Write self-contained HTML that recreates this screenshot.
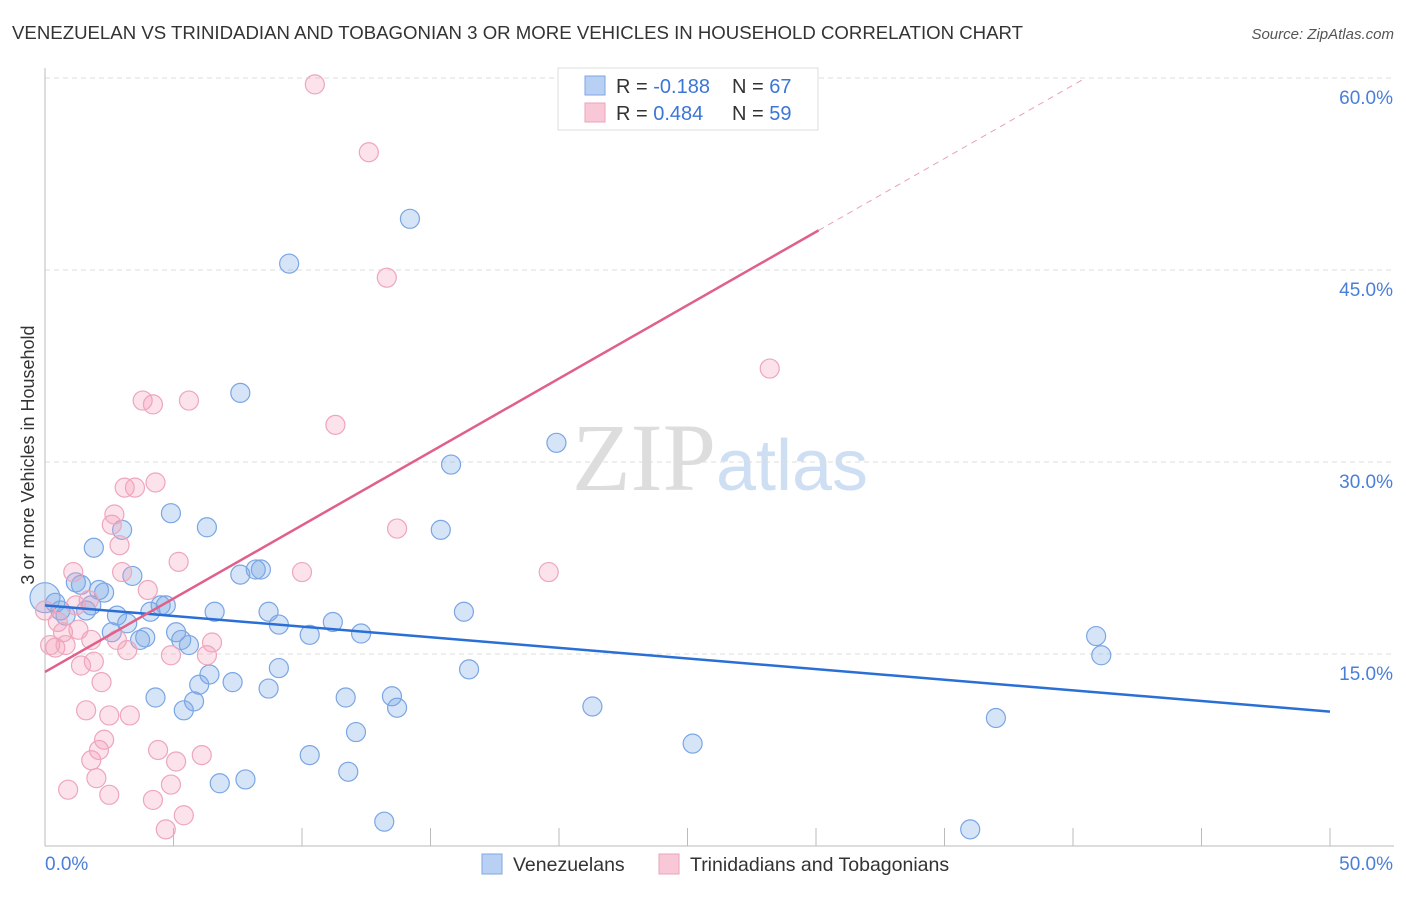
<!DOCTYPE html>
<html><head><meta charset="utf-8"><style>
body{margin:0;background:#fff;font-family:"Liberation Sans",sans-serif;}
svg text{font-family:"Liberation Sans",sans-serif;}
</style></head><body>
<svg id="chart" width="1406" height="892" xmlns="http://www.w3.org/2000/svg">
<text x="12" y="39" font-size="18" fill="#333" textLength="1011" lengthAdjust="spacingAndGlyphs">VENEZUELAN VS TRINIDADIAN AND TOBAGONIAN 3 OR MORE VEHICLES IN HOUSEHOLD CORRELATION CHART</text>
<text x="1394" y="39" font-size="15" fill="#555" text-anchor="end" font-style="italic">Source: ZipAtlas.com</text>
<text x="720" y="490" font-size="96" text-anchor="middle"><tspan fill="#ddd" font-family="Liberation Serif">ZIP</tspan><tspan fill="#cfdff3" font-size="72">atlas</tspan></text>
<g id="grid"></g><g id="axes"></g><g id="pts"></g><g id="trend"></g>
<text transform="translate(34,455) rotate(-90)" font-size="18" fill="#333" text-anchor="middle">3 or more Vehicles in Household</text>
<g>
<rect x="558" y="68" width="260" height="62" fill="#fff" stroke="#ddd"/>
<rect x="585" y="76" width="20" height="19" fill="#b8d0f4" stroke="#7fa6e0"/>
<rect x="585" y="103" width="20" height="19" fill="#f9c8d6" stroke="#eba3ba"/>
<text x="616" y="93" font-size="20" fill="#333">R = <tspan fill="#3b76d6">-0.188</tspan><tspan x="732">N = </tspan><tspan fill="#3b76d6">67</tspan></text>
<text x="616" y="120" font-size="20" fill="#333">R = <tspan fill="#3b76d6"> 0.484</tspan><tspan x="732">N = </tspan><tspan fill="#3b76d6">59</tspan></text>
</g>
<g>
<rect x="482" y="854" width="20" height="20" fill="#b8d0f4" stroke="#7fa6e0"/>
<text x="513" y="871" font-size="19.5" fill="#333">Venezuelans</text>
<rect x="659" y="854" width="20" height="20" fill="#f9c8d6" stroke="#eba3ba"/>
<text x="690" y="871" font-size="19.5" fill="#333">Trinidadians and Tobagonians</text>
</g>
</svg>
<script>
const yTicks=[15,30,45,60];
const yTickLabels=["15.0%","30.0%","45.0%","60.0%"];
const xTicks=[0,5,10,15,20,25,30,35,40,45,50];
const blueX=[0.0,0.4,0.6,0.8,1.2,1.4,1.9,2.1,2.3,1.8,1.6,2.6,2.8,3.0,3.2,3.4,3.7,3.9,4.1,4.3,4.5,4.7,4.9,5.1,5.3,5.4,5.6,5.8,6.0,6.3,6.4,6.6,6.8,7.3,7.6,7.6,7.8,8.2,8.4,8.7,8.7,9.1,9.1,9.5,10.3,10.3,11.2,11.7,11.8,12.1,12.3,13.2,13.5,13.7,14.2,15.4,15.8,16.3,16.5,19.9,21.3,25.2,36.0,37.0,40.9,41.1];
const blueY=[19.4,19.0,18.4,18.0,20.6,20.4,23.3,20.0,19.8,18.8,18.4,16.7,18.0,24.7,17.4,21.1,16.1,16.3,18.3,11.6,18.8,18.8,26.0,16.7,16.1,10.6,15.7,11.3,12.6,24.9,13.4,18.3,4.9,12.8,21.2,35.4,5.2,21.6,21.6,18.3,12.3,13.9,17.3,45.5,16.5,7.1,17.5,11.6,5.8,8.9,16.6,1.9,11.7,10.8,49.0,24.7,29.8,18.3,13.8,31.5,10.9,8.0,1.3,10.0,16.4,14.9];
const pinkX=[0.0,0.2,0.4,0.5,0.7,0.8,0.9,1.1,1.2,1.3,1.4,1.6,1.7,1.8,1.8,1.9,2.0,2.1,2.2,2.3,2.5,2.5,2.6,2.7,2.8,2.9,3.0,3.1,3.2,3.3,3.5,3.8,4.0,4.2,4.2,4.3,4.4,4.7,4.9,4.9,5.1,5.2,5.4,5.6,6.1,6.3,6.5,10.0,10.5,11.3,12.6,13.3,13.7,19.6,28.2];
const pinkY=[18.4,15.7,15.5,17.5,16.7,15.7,4.4,21.4,18.8,16.9,14.1,10.6,19.2,16.1,6.7,14.4,5.3,7.5,12.8,8.3,10.2,4.0,25.1,25.9,16.1,23.5,21.4,28.0,15.3,10.2,28.0,34.8,20.0,34.5,3.6,28.4,7.5,1.3,4.8,14.9,6.6,22.2,2.4,34.8,7.1,14.9,15.9,21.4,59.5,32.9,54.2,44.4,24.8,21.4,37.3];
const blueTrend=[18.8,10.5];   // value at x=0 and x=50
const pinkTrend=[13.6,1.146];  // intercept, slope
const X=v=>45+v*25.7, Y=v=>846-v*12.8;
const NS="http://www.w3.org/2000/svg";
function mk(tag,attrs,parent){const e=document.createElementNS(NS,tag);for(const k in attrs)e.setAttribute(k,attrs[k]);document.getElementById(parent).appendChild(e);return e;}
yTicks.forEach((t,i)=>{
 const g=mk('line',{x1:45,x2:1394,y1:Y(t),y2:Y(t),stroke:'#ddd','stroke-dasharray':'5,4'},'grid');
 
 
 const l=mk('text',{x:1393,y:Y(t)+26,'font-size':19,fill:'#4a7fd8','text-anchor':'end'},'axes');
 l.textContent=yTickLabels[i];
 
 
});
const ax=mk('line',{x1:45,x2:1394,y1:846,y2:846,stroke:'#bbb'},'axes');


const ay=mk('line',{x1:45,x2:45,y1:68,y2:846,stroke:'#bbb'},'axes');


xTicks.forEach(t=>{
 const k=mk('line',{x1:X(t),x2:X(t),y1:828,y2:846,stroke:'#bbb'},'axes');
 
 
});
const xl0=mk('text',{x:45,y:870,'font-size':19,fill:'#4a7fd8'},'axes');xl0.textContent='0.0%';


const xl1=mk('text',{x:1393,y:870,'font-size':19,fill:'#4a7fd8','text-anchor':'end'},'axes');xl1.textContent='50.0%';


blueX.forEach((x,i)=>{
 const c=mk('circle',{cx:X(x),cy:Y(blueY[i]),r:i===0?15:9.5,fill:'rgba(120,165,230,0.3)',stroke:'#7aa6e4','stroke-width':1.2},'pts');
 
 
});
pinkX.forEach((x,i)=>{
 const c=mk('circle',{cx:X(x),cy:Y(pinkY[i]),r:9.5,fill:'rgba(244,160,185,0.3)',stroke:'#eea6bc','stroke-width':1.2},'pts');
 
 
});
const bl=mk('line',{x1:X(0),y1:Y(blueTrend[0]),x2:X(50),y2:Y(blueTrend[1]),stroke:'#2a6fd6','stroke-width':2.5},'trend');


const pe=30.1, pd=(60-pinkTrend[0])/pinkTrend[1];
const pl=mk('line',{x1:X(0),y1:Y(pinkTrend[0]),x2:X(pe),y2:Y(pinkTrend[0]+pinkTrend[1]*pe),stroke:'#e0608a','stroke-width':2.5},'trend');


const pdl=mk('line',{x1:X(pe),y1:Y(pinkTrend[0]+pinkTrend[1]*pe),x2:X(pd),y2:Y(60),stroke:'#e8a0b8','stroke-width':1,'stroke-dasharray':'6,5'},'trend');


</script>
</body></html>
